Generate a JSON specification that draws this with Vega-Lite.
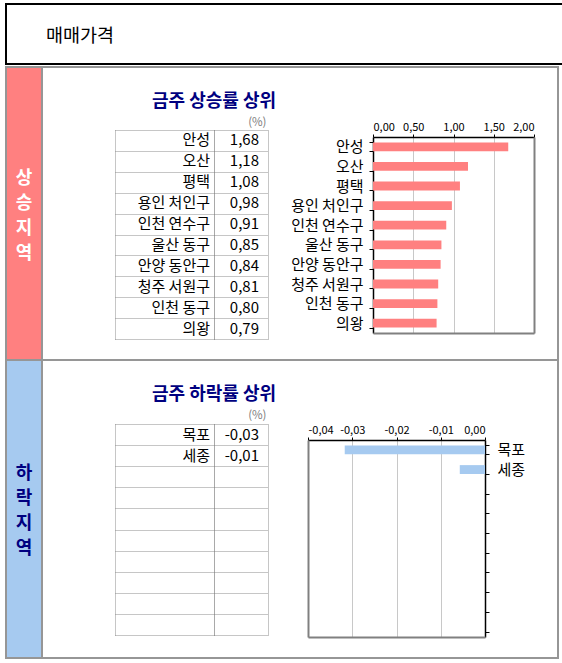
{
  "$schema": "https://vega.github.io/schema/vega-lite/v6.json",
  "background": "white",
  "padding": {"left": 4, "top": 3, "right": 0, "bottom": 0},
  "spacing": 0,
  "bounds": "flush",
  "config": {
    "font": "Noto Sans CJK KR",
    "locale": {"number": {"decimal": ",", "thousands": ".", "grouping": [3], "currency": ["", ""], "minus": "-"}},
    "view": {"stroke": null},
    "axis": {"labelColor": "black", "labelFont": "Noto Sans CJK KR", "titleFont": "Noto Sans CJK KR"}
  },
  "datasets": {
    "up": [
      {"rank": 1, "region": "안성", "value": 1.68},
      {"rank": 2, "region": "오산", "value": 1.18},
      {"rank": 3, "region": "평택", "value": 1.08},
      {"rank": 4, "region": "용인 처인구", "value": 0.98},
      {"rank": 5, "region": "인천 연수구", "value": 0.91},
      {"rank": 6, "region": "울산 동구", "value": 0.85},
      {"rank": 7, "region": "안양 동안구", "value": 0.84},
      {"rank": 8, "region": "청주 서원구", "value": 0.81},
      {"rank": 9, "region": "인천 동구", "value": 0.80},
      {"rank": 10, "region": "의왕", "value": 0.79}
    ],
    "down": [
      {"rank": 1, "region": "목포", "value": -0.0317},
      {"rank": 2, "region": "세종", "value": -0.0057}
    ]
  },
  "vconcat": [
    {
      "width": 560,
      "height": 63,
      "data": {"values": [{"label": "매매가격"}]},
      "layer": [
        {
          "mark": {"type": "rect", "fill": "white", "stroke": "black", "strokeWidth": 2},
          "encoding": {
            "x": {"datum": "h", "type": "nominal", "scale": {"type": "band", "domain": ["h"], "range": [0, 560], "paddingInner": 0, "paddingOuter": 0}, "axis": null},
            "y": {"datum": "h", "type": "nominal", "scale": {"type": "band", "domain": ["h"], "range": [0, 60], "paddingInner": 0, "paddingOuter": 0}, "axis": null}
          }
        },
        {
          "mark": {"type": "text", "align": "left", "baseline": "middle", "dx": 40, "dy": 2, "fontSize": 18.5, "color": "black"},
          "encoding": {
            "x": {"datum": "h", "type": "nominal", "bandPosition": 0, "scale": {"type": "band", "domain": ["h"], "range": [0, 560], "paddingInner": 0, "paddingOuter": 0}, "axis": null},
            "y": {"datum": "h", "type": "nominal", "scale": {"type": "band", "domain": ["h"], "range": [0, 60], "paddingInner": 0, "paddingOuter": 0}, "axis": null},
            "text": {"field": "label"}
          }
        }
      ]
    },
    {
      "width": 552,
      "height": 293,
      "view": {"stroke": "#969696", "strokeWidth": 2, "fill": "white"},
      "resolve": {"scale": {"x": "independent", "y": "independent"}, "axis": {"x": "independent", "y": "independent"}},
      "layer": [
        {
          "data": {"values": [{"label": "상승지역"}]},
          "mark": {"type": "rect", "fill": "#FF8080", "stroke": "#969696", "strokeWidth": 2},
          "encoding": {
            "x": {"datum": "b", "type": "nominal", "scale": {"type": "band", "domain": ["b"], "range": [0, 36], "paddingInner": 0, "paddingOuter": 0}, "axis": null},
            "y": {"datum": "b", "type": "nominal", "scale": {"type": "band", "domain": ["b"], "range": [0, 293], "paddingInner": 0, "paddingOuter": 0}, "axis": null}
          }
        },
        {
          "data": {"values": [{"label": "상승지역"}]},
          "mark": {"type": "text", "text": ["상", "승", "지", "역"], "align": "center", "baseline": "middle", "lineHeight": 25, "fontSize": 18, "fontWeight": "bold", "color": "white", "dy": -34.5},
          "encoding": {
            "x": {"datum": "b", "type": "nominal", "scale": {"type": "band", "domain": ["b"], "range": [0, 36], "paddingInner": 0, "paddingOuter": 0}, "axis": null},
            "y": {"datum": "b", "type": "nominal", "scale": {"type": "band", "domain": ["b"], "range": [0, 293], "paddingInner": 0, "paddingOuter": 0}, "axis": null}
          }
        },
        {
          "data": {"name": "up"},
          "mark": {"type": "text", "align": "right", "baseline": "middle", "dx": -4, "fontSize": 15, "color": "black"},
          "encoding": {
            "x": {"datum": "label", "type": "nominal", "bandPosition": 1,
              "scale": {"type": "band", "domain": ["label"], "range": [109, 208], "paddingInner": 0, "paddingOuter": 0},
              "axis": {"orient": "top", "offset": -63, "grid": true, "tickBand": "extent", "gridDash": [1, 1], "gridColor": "#8c8c8c", "labels": false, "ticks": false, "domain": false,
                "title": "금주 상승률 상위", "titleX": 207.5, "titleY": -29, "titleAlign": "center", "titleBaseline": "middle", "titleAngle": 0, "titleFontSize": 18, "titleFontWeight": "bold", "titleColor": "#000080"}},
            "y": {"field": "rank", "type": "ordinal",
              "scale": {"type": "band", "domain": [1, 2, 3, 4, 5, 6, 7, 8, 9, 10], "range": [63, 272], "paddingInner": 0, "paddingOuter": 0},
              "axis": {"orient": "left", "offset": -109, "grid": true, "tickBand": "extent", "gridDash": [1, 1], "gridColor": "#8c8c8c", "labels": false, "ticks": false, "domain": false, "title": null}},
            "text": {"field": "region"}
          }
        },
        {
          "data": {"name": "up"},
          "mark": {"type": "text", "align": "right", "baseline": "middle", "dx": -9, "fontSize": 15, "color": "black"},
          "encoding": {
            "x": {"datum": "value", "type": "nominal", "bandPosition": 1,
              "scale": {"type": "band", "domain": ["value"], "range": [208, 262], "paddingInner": 0, "paddingOuter": 0},
              "axis": {"orient": "top", "offset": -63, "grid": true, "tickBand": "extent", "gridDash": [1, 1], "gridColor": "#8c8c8c", "labels": false, "ticks": false, "domain": false,
                "title": "(%)", "titleX": 260, "titleY": -8, "titleAlign": "right", "titleBaseline": "middle", "titleAngle": 0, "titleFontSize": 11.5, "titleFontWeight": "normal", "titleColor": "#808080"}},
            "y": {"field": "rank", "type": "ordinal",
              "scale": {"type": "band", "domain": [1, 2, 3, 4, 5, 6, 7, 8, 9, 10], "range": [63, 272], "paddingInner": 0, "paddingOuter": 0},
              "axis": {"orient": "left", "offset": -208, "grid": true, "tickBand": "extent", "gridDash": [1, 1], "gridColor": "#8c8c8c", "labels": false, "ticks": false, "domain": false, "title": null}},
            "text": {"field": "value", "type": "quantitative", "format": ".2f"}
          }
        },
        {
          "data": {"name": "up"},
          "mark": {"type": "bar", "color": "#FF8080"},
          "encoding": {
            "x": {"field": "value", "type": "quantitative",
              "scale": {"domain": [0, 2], "range": [367, 528], "nice": false},
              "axis": {"orient": "top", "offset": -70, "values": [0, 0.5, 1, 1.5, 2], "format": ".2f", "grid": true, "gridColor": "#c8c8c8", "domain": true, "domainColor": "black", "domainWidth": 1.5, "ticks": true, "tickColor": "black", "tickSize": 3, "labelFontSize": 11, "labelPadding": 2, "title": null}},
            "y": {"field": "region", "type": "nominal", "sort": {"field": "rank", "op": "min"},
              "scale": {"type": "band", "range": [70, 266], "paddingInner": 0.55, "paddingOuter": 0.275},
              "axis": {"orient": "left", "offset": -367, "tickBand": "extent", "grid": false, "domain": true, "domainColor": "black", "domainWidth": 1.5, "ticks": true, "tickColor": "black", "tickSize": 4, "labelFontSize": 15, "labelPadding": 6, "title": null}}
          }
        },
        {
          "data": {"values": [{"label": "plot frame"}]},
          "mark": {"type": "rect", "opacity": 0},
          "encoding": {
            "x": {"datum": "f", "type": "nominal", "scale": {"type": "band", "domain": ["f"], "range": [367, 528], "paddingInner": 0, "paddingOuter": 0},
              "axis": {"orient": "bottom", "offset": -27, "domain": true, "domainColor": "#808080", "domainWidth": 2, "labels": false, "ticks": false, "grid": false, "title": null}},
            "y": {"datum": "f", "type": "nominal", "scale": {"type": "band", "domain": ["f"], "range": [70, 266], "paddingInner": 0, "paddingOuter": 0},
              "axis": {"orient": "right", "offset": -24, "domain": true, "domainColor": "#808080", "domainWidth": 2, "labels": false, "ticks": false, "grid": false, "title": null}}
          }
        }
      ]
    },
    {
      "width": 552,
      "height": 298,
      "view": {"stroke": "#969696", "strokeWidth": 2, "fill": "white"},
      "resolve": {"scale": {"x": "independent", "y": "independent"}, "axis": {"x": "independent", "y": "independent"}},
      "layer": [
        {
          "data": {"values": [{"label": "하락지역"}]},
          "mark": {"type": "rect", "fill": "#A6CAF0", "stroke": "#969696", "strokeWidth": 2},
          "encoding": {
            "x": {"datum": "b", "type": "nominal", "scale": {"type": "band", "domain": ["b"], "range": [0, 36], "paddingInner": 0, "paddingOuter": 0}, "axis": null},
            "y": {"datum": "b", "type": "nominal", "scale": {"type": "band", "domain": ["b"], "range": [0, 298], "paddingInner": 0, "paddingOuter": 0}, "axis": null}
          }
        },
        {
          "data": {"values": [{"label": "하락지역"}]},
          "mark": {"type": "text", "text": ["하", "락", "지", "역"], "align": "center", "baseline": "middle", "lineHeight": 25, "fontSize": 18, "fontWeight": "bold", "color": "#000080", "dy": -35},
          "encoding": {
            "x": {"datum": "b", "type": "nominal", "scale": {"type": "band", "domain": ["b"], "range": [0, 36], "paddingInner": 0, "paddingOuter": 0}, "axis": null},
            "y": {"datum": "b", "type": "nominal", "scale": {"type": "band", "domain": ["b"], "range": [0, 298], "paddingInner": 0, "paddingOuter": 0}, "axis": null}
          }
        },
        {
          "data": {"name": "down"},
          "mark": {"type": "text", "align": "right", "baseline": "middle", "dx": -4, "fontSize": 15, "color": "black"},
          "encoding": {
            "x": {"datum": "label", "type": "nominal", "bandPosition": 1,
              "scale": {"type": "band", "domain": ["label"], "range": [109, 208], "paddingInner": 0, "paddingOuter": 0},
              "axis": {"orient": "top", "offset": -64, "grid": true, "tickBand": "extent", "gridDash": [1, 1], "gridColor": "#8c8c8c", "labels": false, "ticks": false, "domain": false,
                "title": "금주 하락률 상위", "titleX": 207.5, "titleY": -30, "titleAlign": "center", "titleBaseline": "middle", "titleAngle": 0, "titleFontSize": 18, "titleFontWeight": "bold", "titleColor": "#000080"}},
            "y": {"field": "rank", "type": "ordinal",
              "scale": {"type": "band", "domain": [1, 2, 3, 4, 5, 6, 7, 8, 9, 10], "range": [64, 275], "paddingInner": 0, "paddingOuter": 0},
              "axis": {"orient": "left", "offset": -109, "grid": true, "tickBand": "extent", "gridDash": [1, 1], "gridColor": "#8c8c8c", "labels": false, "ticks": false, "domain": false, "title": null}},
            "text": {"field": "region"}
          }
        },
        {
          "data": {"name": "down"},
          "mark": {"type": "text", "align": "right", "baseline": "middle", "dx": -9, "fontSize": 15, "color": "black"},
          "encoding": {
            "x": {"datum": "value", "type": "nominal", "bandPosition": 1,
              "scale": {"type": "band", "domain": ["value"], "range": [208, 262], "paddingInner": 0, "paddingOuter": 0},
              "axis": {"orient": "top", "offset": -64, "grid": true, "tickBand": "extent", "gridDash": [1, 1], "gridColor": "#8c8c8c", "labels": false, "ticks": false, "domain": false,
                "title": "(%)", "titleX": 260, "titleY": -9, "titleAlign": "right", "titleBaseline": "middle", "titleAngle": 0, "titleFontSize": 11.5, "titleFontWeight": "normal", "titleColor": "#808080"}},
            "y": {"field": "rank", "type": "ordinal",
              "scale": {"type": "band", "domain": [1, 2, 3, 4, 5, 6, 7, 8, 9, 10], "range": [64, 275], "paddingInner": 0, "paddingOuter": 0},
              "axis": {"orient": "left", "offset": -208, "grid": true, "tickBand": "extent", "gridDash": [1, 1], "gridColor": "#8c8c8c", "labels": false, "ticks": false, "domain": false, "title": null}},
            "text": {"field": "value", "type": "quantitative", "format": ".2f"}
          }
        },
        {
          "data": {"name": "down"},
          "mark": {"type": "bar", "color": "#A6CAF0"},
          "encoding": {
            "x": {"field": "value", "type": "quantitative",
              "scale": {"domain": [-0.04, 0], "range": [302, 479], "nice": false},
              "axis": {"orient": "top", "offset": -80, "values": [-0.04, -0.03, -0.02, -0.01, 0], "format": ".2f", "grid": true, "gridColor": "#c8c8c8", "domain": true, "domainColor": "black", "domainWidth": 1.5, "ticks": true, "tickColor": "black", "tickSize": 3, "labelFontSize": 11, "labelPadding": 2, "title": null}},
            "y": {"field": "region", "type": "nominal",
              "scale": {"type": "band", "domain": ["목포", "세종", "3", "4", "5", "6", "7", "8", "9", "10"], "range": [80, 277], "paddingInner": 0.55, "paddingOuter": 0.275},
              "axis": {"orient": "right", "offset": -73, "tickBand": "extent", "grid": false, "domain": true, "domainColor": "black", "domainWidth": 1.5, "ticks": true, "tickColor": "black", "tickSize": 4, "labelFontSize": 15, "labelPadding": 8, "labelExpr": "isValid(toNumber(datum.value)) ? '' : datum.value", "title": null}}
          }
        },
        {
          "data": {"values": [{"label": "plot frame"}]},
          "mark": {"type": "rect", "opacity": 0},
          "encoding": {
            "x": {"datum": "f", "type": "nominal", "scale": {"type": "band", "domain": ["f"], "range": [302, 479], "paddingInner": 0, "paddingOuter": 0},
              "axis": {"orient": "bottom", "offset": -21, "domain": true, "domainColor": "#808080", "domainWidth": 2, "labels": false, "ticks": false, "grid": false, "title": null}},
            "y": {"datum": "f", "type": "nominal", "scale": {"type": "band", "domain": ["f"], "range": [80, 277], "paddingInner": 0, "paddingOuter": 0},
              "axis": {"orient": "left", "offset": -302, "domain": true, "domainColor": "#808080", "domainWidth": 2, "labels": false, "ticks": false, "grid": false, "title": null}}
          }
        }
      ]
    }
  ]
}
